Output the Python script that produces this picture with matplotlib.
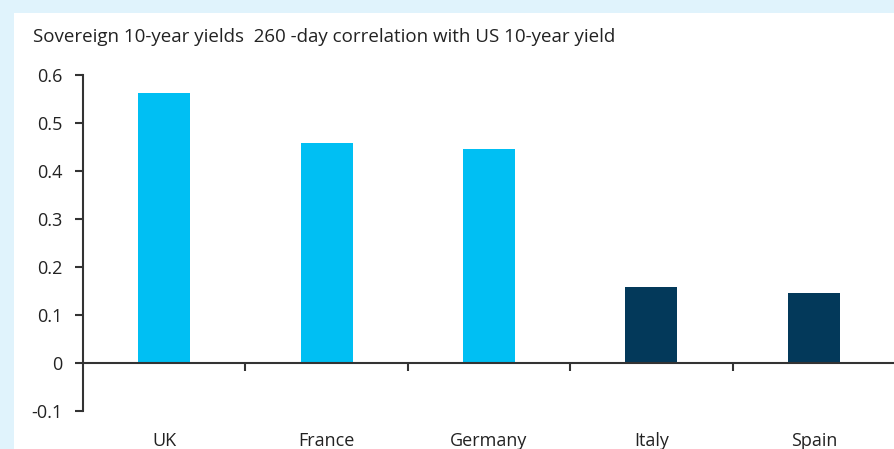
import matplotlib
matplotlib.use("Agg")
import matplotlib.pyplot as plt
from matplotlib.patches import Rectangle
from matplotlib.ticker import FuncFormatter

plt.rcParams['font.family'] = ['Open Sans', 'DejaVu Sans']

categories = ["UK", "France", "Germany", "Italy", "Spain"]
values = [0.563, 0.459, 0.446, 0.159, 0.146]
bar_colors = ["#00BFF3", "#00BFF3", "#00BFF3", "#03395A", "#03395A"]
title = "Sovereign 10-year yields  260 -day correlation with US 10-year yield"
yticks = [-0.1, 0, 0.1, 0.2, 0.3, 0.4, 0.5, 0.6]

W, H = 895, 449
fig = plt.figure(figsize=(W / 100, H / 100), dpi=100)
fig.patch.set_facecolor("#E0F3FC")
fig.patches.append(Rectangle((14 / W, 0), 1 - 14 / W, 1 - 13 / H,
                             transform=fig.transFigure, facecolor="white",
                             edgecolor="none", zorder=-10))

ax = fig.add_axes([83 / W, 1 - 411 / H, (W - 83) / W, (411 - 75) / H])
ax.set_facecolor("none")

x = list(range(len(categories)))
ax.bar(x, values, width=0.32, color=bar_colors, zorder=2)

ax.set_xlim(-0.5, len(categories) - 0.5)
ax.set_ylim(-0.1, 0.6)

axis_col = "#333333"
for s in ["top", "right", "bottom"]:
    ax.spines[s].set_visible(False)
ax.spines["left"].set_color(axis_col)
ax.spines["left"].set_linewidth(1.5)

ax.set_yticks(yticks)
ax.yaxis.set_major_formatter(FuncFormatter(lambda v, p: "0" if abs(v) < 1e-9 else f"{v:.1f}"))
ax.tick_params(axis="y", length=6, width=1.5, color=axis_col, pad=9,
               labelsize=13, labelcolor="#222222")

ax.set_xticks(x)
ax.set_xticklabels(categories)
ax.tick_params(axis="x", length=0, pad=15, labelsize=13, labelcolor="#222222")

ax.axhline(0, color=axis_col, linewidth=1.5, zorder=3)
sec = ax.secondary_xaxis(1 / 7)
sec.set_xticks([i + 0.5 for i in x[:-1]])
sec.set_xticklabels([])
sec.spines["bottom"].set_visible(False)
sec.tick_params(axis="x", length=6, width=1.5, color=axis_col, direction="out")

fig.text(33 / W, 1 - 37 / H, title, fontsize=13.5, color="#222222", va="center", ha="left")

fig.savefig("out.png", dpi=100, facecolor=fig.get_facecolor())
